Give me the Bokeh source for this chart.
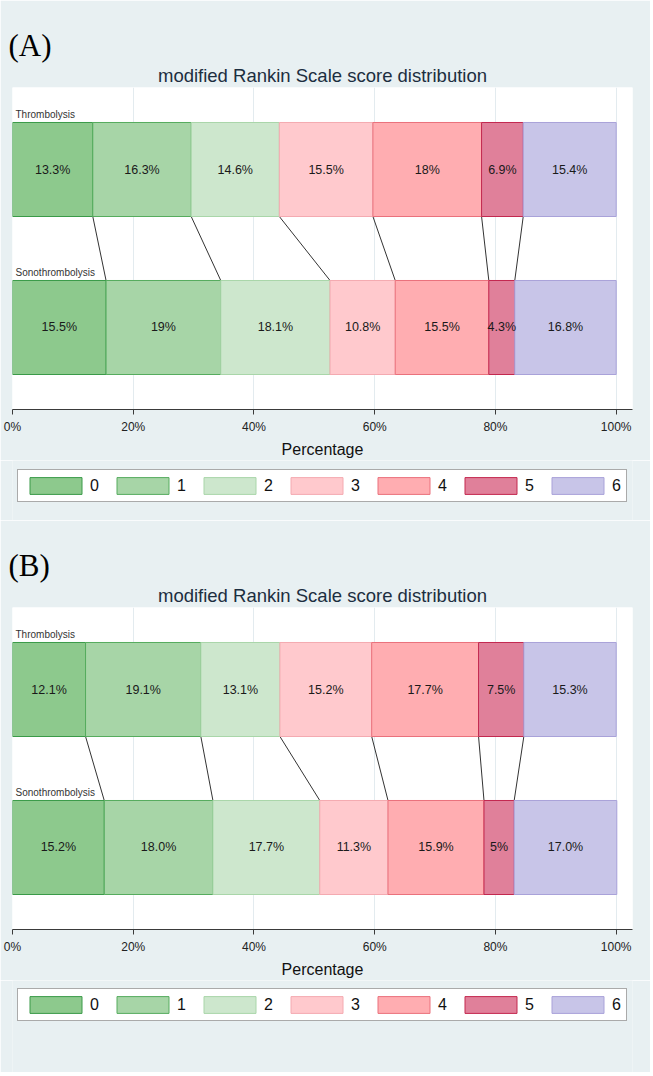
from bokeh.plotting import figure
from bokeh.models import Range1d, FixedTicker, Legend, LegendItem, Title
from bokeh.layouts import column
from bokeh.embed import file_html
from bokeh.resources import INLINE
from bokeh.core.properties import value

# ---------------- data ----------------
scores = ["0", "1", "2", "3", "4", "5", "6"]
groups = ["Thrombolysis", "Sonothrombolysis"]

a_thromb = [13.3, 16.3, 14.6, 15.5, 18.0, 6.9, 15.4]
a_thromb_labels = ["13.3%", "16.3%", "14.6%", "15.5%", "18%", "6.9%", "15.4%"]
a_sono = [15.5, 19.0, 18.1, 10.8, 15.5, 4.3, 16.8]
a_sono_labels = ["15.5%", "19%", "18.1%", "10.8%", "15.5%", "4.3%", "16.8%"]

b_thromb = [12.1, 19.1, 13.1, 15.2, 17.7, 7.5, 15.3]
b_thromb_labels = ["12.1%", "19.1%", "13.1%", "15.2%", "17.7%", "7.5%", "15.3%"]
b_sono = [15.2, 18.0, 17.7, 11.3, 15.9, 5.0, 17.0]
b_sono_labels = ["15.2%", "18.0%", "17.7%", "11.3%", "15.9%", "5%", "17.0%"]

x_ticks = [0, 20, 40, 60, 80, 100]
x_tick_labels = ["0%", "20%", "40%", "60%", "80%", "100%"]
chart_title = "modified Rankin Scale score distribution"
x_title = "Percentage"
panel_tags = ["(A)", "(B)"]

# ---------------- style ----------------
BG = "#e8f0f2"
FILLS = ["#8dc98d", "#a7d5a7", "#cde7cd", "#ffc9cd", "#ffadb1", "#e0809a", "#c8c5e8"]
LINES = ["#3a9a48", "#56ac5e", "#a9d6a9", "#f4aab1", "#ea717c", "#c3284f", "#a9a2d9"]
FONT = "Liberation Sans"
ROW_Y = [1.0, 0.0]
BAR_H = 0.595
FIG_W = 650


def cumulate(vals):
    left, right, s = [], [], 0.0
    for v in vals:
        left.append(s)
        s += v
        right.append(s)
    return left, right


def make_panel(tag, t_vals, t_labels, s_vals, s_labels):
    p = figure(frame_width=620, frame_height=322,
               min_border_left=12, min_border_right=18,
               min_border_top=87, min_border_bottom=51,
               x_range=Range1d(0, 102.7), y_range=Range1d(-0.519, 1.519),
               y_axis_location=None,
               output_backend="svg", toolbar_location=None,
               background_fill_color="white", border_fill_color=BG,
               outline_line_color=None)

    p.ygrid.visible = False
    p.xgrid.ticker = FixedTicker(ticks=x_ticks)
    p.xgrid.grid_line_color = "#e3ebef"

    ax = p.xaxis[0]
    ax.ticker = FixedTicker(ticks=x_ticks)
    ax.major_label_overrides = {t: l for t, l in zip(x_ticks, x_tick_labels)}
    ax.axis_label = x_title
    ax.axis_label_text_font = FONT
    ax.axis_label_text_font_size = "16px"
    ax.axis_label_text_font_style = "normal"
    ax.axis_label_text_color = "#111111"
    ax.axis_label_standoff = 4
    ax.major_label_text_font = FONT
    ax.major_label_text_font_size = "12px"
    ax.major_label_text_color = "#222222"
    ax.major_label_standoff = 5
    ax.major_tick_in = 0
    ax.major_tick_out = 5
    ax.minor_tick_out = 0
    ax.minor_tick_in = 0
    ax.axis_line_color = "#3a3a3a"
    ax.major_tick_line_color = "#3a3a3a"

    tl, tr = cumulate(t_vals)
    sl, sr = cumulate(s_vals)

    # connectors between the two bars
    p.segment(x0=tr[:-1], y0=[ROW_Y[0] - BAR_H / 2] * (len(tr) - 1),
              x1=sr[:-1], y1=[ROW_Y[1] + BAR_H / 2] * (len(sr) - 1),
              line_color="#333333", line_width=1)

    for k, sc in enumerate(scores):
        p.hbar(y=ROW_Y, left=[tl[k], sl[k]], right=[tr[k], sr[k]], height=BAR_H,
               fill_color=FILLS[k], line_color=LINES[k], line_width=1)

    mids_t = [(a + b) / 2 for a, b in zip(tl, tr)]
    mids_s = [(a + b) / 2 for a, b in zip(sl, sr)]
    p.text(x=mids_t + mids_s, y=[ROW_Y[0]] * len(mids_t) + [ROW_Y[1]] * len(mids_s),
           text=t_labels + s_labels, text_align="center", text_baseline="middle",
           text_font=value(FONT), text_font_size="12.5px", text_color="#1a1a1a")

    p.text(x=[0, 0], y=[y + BAR_H / 2 for y in ROW_Y], text=groups,
           x_offset=3, y_offset=-2, text_align="left", text_baseline="bottom",
           text_font=value(FONT), text_font_size="10px", text_color="#333333")

    # outer title: panel tag; inner title: chart title
    p.title.text = tag
    p.title.align = "left"
    p.title.offset = -4
    p.title.text_font = "Liberation Serif"
    p.title.text_font_size = "31px"
    p.title.text_font_style = "normal"
    p.title.text_color = "#000000"
    p.title.standoff = -3

    p.add_layout(Title(text=chart_title, align="center", text_font=FONT,
                       text_font_size="18.5px", text_font_style="normal",
                       text_color="#1c2e40", standoff=3), "above")
    return p


def make_legend(height, bottom_gap):
    lg = figure(width=FIG_W, height=height, min_border=0,
                x_range=Range1d(0, 1), y_range=Range1d(0, 1),
                x_axis_location=None, y_axis_location=None,
                output_backend="svg", toolbar_location=None,
                background_fill_color=BG, border_fill_color=BG,
                outline_line_color=None)
    lg.xgrid.visible = False
    lg.ygrid.visible = False
    items = []
    for k, sc in enumerate(scores):
        # hidden key renderer: only its legend key is drawn
        r = lg.hbar(y=[0.5], left=[0.2], right=[0.8], height=0.5,
                    fill_color=FILLS[k], line_color=LINES[k], line_width=1)
        r.visible = False
        items.append(LegendItem(label=sc, renderers=[r]))
    legend = Legend(items=items, orientation="horizontal", location=(5, bottom_gap),
                    glyph_width=65, glyph_height=21, label_standoff=2, spacing=11,
                    padding=5, margin=0, label_height=21, label_width=9,
                    label_text_font=FONT, label_text_font_size="16px",
                    label_text_color="#111111",
                    border_line_color="#555555", border_line_width=1,
                    background_fill_color="white", background_fill_alpha=1.0)
    lg.add_layout(legend)
    return lg


pa = make_panel(panel_tags[0], a_thromb, a_thromb_labels, a_sono, a_sono_labels)
la = make_legend(60, 18)
pb = make_panel(panel_tags[1], b_thromb, b_thromb_labels, b_sono, b_sono_labels)
lb = make_legend(92, 51)

layout = column(pa, la, pb, lb, spacing=0)
open("out.html", "w").write(file_html(layout, INLINE))
